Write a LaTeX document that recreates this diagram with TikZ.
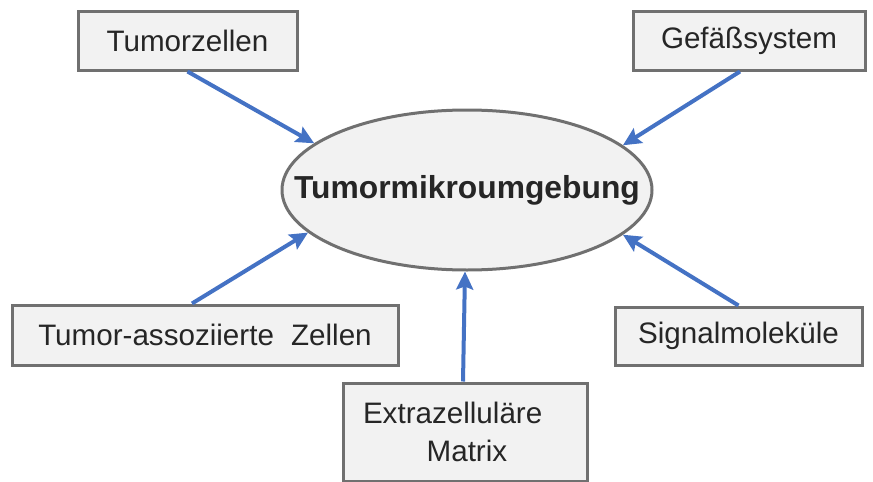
\documentclass[tikz,border=0pt]{standalone}
\usepackage{fontspec}
\setmainfont{Liberation Sans}
\usetikzlibrary{arrows.meta,shapes.geometric}
\definecolor{pfeilblau}{HTML}{4472C4}
\definecolor{rahmengrau}{HTML}{707070}
\definecolor{kastenfuell}{HTML}{F2F2F2}
\tikzset{
  kasten/.style={draw=rahmengrau, line width=1.5pt, fill=kastenfuell, inner sep=0pt,
    text=black!85, font=\fontsize{14.8}{19}\selectfont},
  pfeil/.style={draw=pfeilblau, line width=2pt, -{Stealth[length=9pt,width=8.5pt,inset=1.5pt]}}
}
\begin{document}
\begin{tikzpicture}[x=0.5pt,y=-0.5pt]
  \useasboundingbox (0,0) rectangle (873,482);

  \node[kasten, ellipse, inner xsep=-22pt, minimum width=185pt, minimum height=80pt,
    font=\bfseries\fontsize{15.9}{19}\selectfont] (tum) at (467,190) {Tumormikroumgebung};

  \node[kasten, minimum width=109.5pt, minimum height=29.5pt] (tz) at (187.5,40.5) {Tumorzellen};
  \node[kasten, minimum width=116pt, minimum height=29.5pt] (gf) at (749,40.5) {Gefäßsystem};
  \node[kasten, minimum width=193pt, minimum height=30pt] (ta) at (205,335) {Tumor-assoziierte\hspace{0.3em} Zellen};
  \node[kasten, minimum width=123.5pt, minimum height=29pt] (sm) at (738.5,336) {Signalmoleküle};
  \node[kasten, minimum width=122pt, minimum height=49pt, inner xsep=10pt, text width=102pt,
    align=left] (em) at (465,432) {Extrazelluläre\\\hspace*{2.15em}Matrix};

  \draw[pfeil] (tz.south) -- (tum.163);
  \draw[pfeil] ([xshift=-4.5pt]gf.south) -- (tum.16);
  \draw[pfeil] ([xshift=-6.5pt]ta.north) -- (tum.195);
  \draw[pfeil] (sm.north) -- (tum.344);
  \draw[pfeil] ([xshift=-1pt]em.north) -- ([xshift=-1pt]tum.south);
\end{tikzpicture}
\end{document}
